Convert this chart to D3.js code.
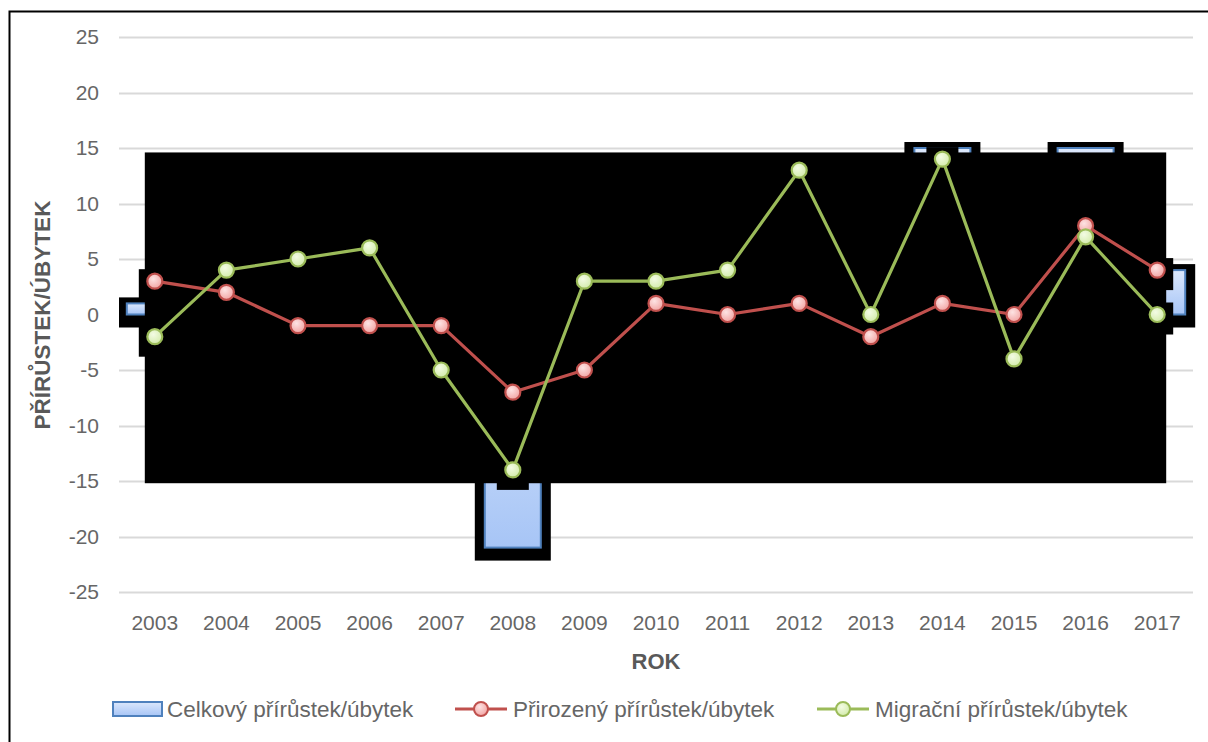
<!DOCTYPE html>
<head>
<meta charset="utf-8">
<title>Přírůstek/úbytek</title>
<script src="https://d3js.org/d3.v7.min.js"></script>
<style>
  body { margin: 0; background: #fff; }
  text { font-family: "Liberation Sans", Arial, sans-serif; }
</style>
</head>
<body>
<div id="chart"></div>
<script>
// ---------------- data ----------------
const years = [2003, 2004, 2005, 2006, 2007, 2008, 2009, 2010, 2011, 2012, 2013, 2014, 2015, 2016, 2017];
const celkovy = [1, 6, 4, 5, -6, -21, -2, 4, 4, 14, -2, 15, -4, 15, 4];
const prirozeny = [3, 2, -1, -1, -1, -7, -5, 1, 0, 1, -2, 1, 0, 8, 4];
const migracni = [-2, 4, 5, 6, -5, -14, 3, 3, 4, 13, 0, 14, -4, 7, 0];
const yTicks = [-25, -20, -15, -10, -5, 0, 5, 10, 15, 20, 25];
const seriesNames = ["Celkový přírůstek/úbytek", "Přirozený přírůstek/úbytek", "Migrační přírůstek/úbytek"];

// ---------------- setup ----------------
const W = 1208, H = 742;
const plot = { left: 119, right: 1193, top: 37, bottom: 592 };

const svg = d3.select("#chart").append("svg")
  .attr("width", W).attr("height", H);

const defs = svg.append("defs");
const barGrad = defs.append("linearGradient").attr("id", "barGrad")
  .attr("x1", 0).attr("y1", 0).attr("x2", 0).attr("y2", 1);
barGrad.append("stop").attr("offset", "0%").attr("stop-color", "#dce8fc");
barGrad.append("stop").attr("offset", "100%").attr("stop-color", "#a7c5f6");

function radial(id, c0, c1) {
  const g = defs.append("radialGradient").attr("id", id).attr("cx", "40%").attr("cy", "35%").attr("r", "65%");
  g.append("stop").attr("offset", "0%").attr("stop-color", c0);
  g.append("stop").attr("offset", "100%").attr("stop-color", c1);
}
radial("redDot", "#fde3e3", "#f2a6a5");
radial("greenDot", "#f3fbe4", "#d4ecac");

defs.append("clipPath").attr("id", "plotClip").append("rect")
  .attr("x", plot.left).attr("y", 0).attr("width", 1208 - plot.left).attr("height", H);

// frame
svg.append("rect")
  .attr("x", 9.5).attr("y", 11.5).attr("width", 1300).attr("height", 800)
  .attr("fill", "none").attr("stroke", "#000").attr("stroke-width", 2);

// scales
const x = d3.scaleBand().domain(years).range([plot.left, plot.right])
  .paddingInner(0.19).paddingOuter(0.095);
const y = d3.scaleLinear().domain([-25, 25]).range([plot.bottom, plot.top]);
const cx = d => x(d) + x.bandwidth() / 2;

// gridlines
svg.append("g").selectAll("line").data(yTicks).join("line")
  .attr("x1", plot.left).attr("x2", plot.right)
  .attr("y1", d => Math.round(y(d)) + 0.5).attr("y2", d => Math.round(y(d)) + 0.5)
  .attr("stroke", "#d9d9d9").attr("stroke-width", 2);

// y tick labels
svg.append("g").selectAll("text").data(yTicks).join("text")
  .attr("x", 99).attr("y", d => y(d) + 7)
  .attr("text-anchor", "end").attr("font-size", 21).attr("fill", "#666")
  .text(d => d);

// x tick labels
const xAxis = svg.append("g")
  .attr("transform", "translate(0," + (plot.bottom + 30) + ")")
  .call(d3.axisBottom(x).tickSize(0).tickPadding(0));
xAxis.select(".domain").remove();
xAxis.selectAll("text").attr("font-size", 21).attr("fill", "#666")
  .attr("font-family", "Liberation Sans, Arial, sans-serif").attr("dy", "0.4em");

// ---------------- black glow artefacts ----------------
const bars = years.map((yr, i) => ({ yr, v: celkovy[i] }));
const glow = svg.append("g").attr("clip-path", "url(#plotClip)");
glow.selectAll("rect").data(bars).join("rect")
  .attr("x", d => x(d.yr) - 9)
  .attr("y", d => Math.min(y(d.v), y(0)) - 6)
  .attr("width", x.bandwidth() + 18)
  .attr("height", d => Math.abs(y(d.v) - y(0)) + 19)
  .attr("fill", "#000");

// bars
svg.append("g").selectAll("rect").data(bars).join("rect")
  .attr("x", d => x(d.yr) + 1)
  .attr("y", d => Math.min(y(d.v), y(0)))
  .attr("width", x.bandwidth() - 2)
  .attr("height", d => Math.abs(y(d.v) - y(0)))
  .attr("fill", "url(#barGrad)").attr("stroke", "#4f81bd").attr("stroke-width", 2);

// large shadow block spanning the series
svg.append("rect")
  .attr("x", cx(years[0]) - 10)
  .attr("y", y(14.6))
  .attr("width", cx(years[years.length - 1]) + 9 - (cx(years[0]) - 10))
  .attr("height", y(-15.2) - y(14.6))
  .attr("fill", "#000");

// marker glows
const red = years.map((yr, i) => ({ yr, v: prirozeny[i] }));
const green = years.map((yr, i) => ({ yr, v: migracni[i] }));
svg.append("g").selectAll("rect").data(red.concat(green)).join("rect")
  .attr("x", d => cx(d.yr) - 16).attr("y", d => y(d.v) - 12)
  .attr("width", 32).attr("height", 32).attr("fill", "#000");

// lines
const line = d3.line().x(d => cx(d.yr)).y(d => y(d.v));
function drawSeries(data, stroke, fill) {
  svg.append("path").datum(data).attr("d", line)
    .attr("fill", "none").attr("stroke", stroke).attr("stroke-width", 3.2)
    .attr("stroke-linejoin", "round");
  svg.append("g").selectAll("circle").data(data).join("circle")
    .attr("cx", d => cx(d.yr)).attr("cy", d => y(d.v)).attr("r", 7.5)
    .attr("fill", fill).attr("stroke", stroke).attr("stroke-width", 2.2);
}
drawSeries(red, "#c0504d", "url(#redDot)");
drawSeries(green, "#9bbb59", "url(#greenDot)");

// ---------------- titles ----------------
svg.append("text")
  .attr("transform", "translate(50,315) rotate(-90)")
  .attr("text-anchor", "middle").attr("font-size", 22.5).attr("font-weight", "bold")
  .attr("fill", "#595959").text("PŘÍRŮSTEK/ÚBYTEK");

svg.append("text")
  .attr("x", 656).attr("y", 669)
  .attr("text-anchor", "middle").attr("font-size", 22).attr("font-weight", "bold")
  .attr("fill", "#595959").text("ROK");

// ---------------- legend ----------------
const legend = svg.append("g").attr("transform", "translate(0,709)");
legend.append("rect").attr("x", 113).attr("y", -7).attr("width", 49).attr("height", 14)
  .attr("fill", "url(#barGrad)").attr("stroke", "#4f81bd").attr("stroke-width", 2);
legend.append("text").attr("x", 167).attr("y", 8).attr("font-size", 22.5).attr("fill", "#666")
  .text(seriesNames[0]);

function legLine(x0, stroke, fill, name) {
  legend.append("line").attr("x1", x0).attr("x2", x0 + 52).attr("y1", 0).attr("y2", 0)
    .attr("stroke", stroke).attr("stroke-width", 3.2);
  legend.append("circle").attr("cx", x0 + 26).attr("cy", 0).attr("r", 7)
    .attr("fill", fill).attr("stroke", stroke).attr("stroke-width", 2);
  legend.append("text").attr("x", x0 + 58).attr("y", 8).attr("font-size", 22.5).attr("fill", "#666")
    .text(name);
}
legLine(455, "#c0504d", "url(#redDot)", seriesNames[1]);
legLine(817, "#9bbb59", "url(#greenDot)", seriesNames[2]);
</script>
</body>
